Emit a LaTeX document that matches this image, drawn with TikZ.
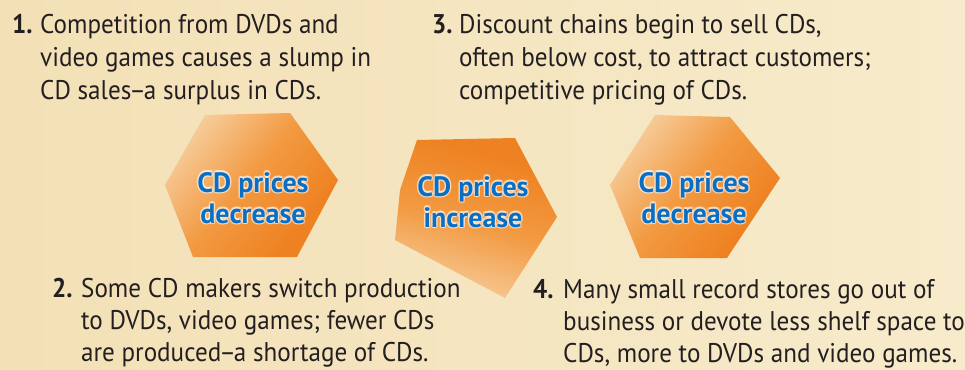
\documentclass[tikz,border=0pt]{standalone}
\usepackage{fontspec}
\setmainfont[FakeStretch=0.93]{PT Sans}
\newfontfamily\labelfont{PT Sans}

\definecolor{paper}{HTML}{F7EBCB}
\definecolor{paperL}{HTML}{F3E0B6}
\definecolor{ink}{HTML}{231F20}
\definecolor{pblue}{HTML}{0A6FC2}
\definecolor{orD}{HTML}{EE8222}
\definecolor{orM}{HTML}{F29A42}
\definecolor{orL}{HTML}{F6C58E}

% orange-to-paper ramp used for the three arrow shapes
\pgfdeclareverticalshading{chev}{100bp}{color(0bp)=(orD); color(30bp)=(orD); color(52bp)=(orM); color(72bp)=(orL); color(90bp)=(paper); color(100bp)=(paper)}

\newcommand{\tightdash}{\kern-2pt–\kern-2pt}

\begin{document}
\begin{tikzpicture}[x=1pt,y=-1pt,
  body/.style={font=\fontsize{27}{33}\selectfont, text=ink, inner sep=0pt, anchor=base west},
  lowbody/.style={body, font=\fontsize{27}{32}\selectfont},
  numlabel/.style={font=\fontsize{27}{33}\selectfont\bfseries, text=ink, inner sep=0pt, anchor=base west},
  price/.style={font=\labelfont\bfseries\fontsize{28}{31}\selectfont, text=pblue, inner sep=0pt, anchor=base},
  glow/.style={price, text=white, opacity=0.35}
]
\useasboundingbox (0,0) rectangle (965,369);
\shade[left color=paperL, right color=paper] (0,0) rectangle (965,369);

% arrow shapes
\shade[shading=chev, shading angle=50]
  (205,115) -- (290,113) -- (338,180) -- (297,257) -- (193,257) -- (165,185) -- cycle;
\shade[shading=chev, shading angle=165]
  (417,140) -- (515,138) -- (557,217) -- (505,298) -- (395,240) -- (400,190) -- cycle;
\shade[shading=chev, shading angle=50]
  (655,115) -- (730,117) -- (780,178) -- (727,258) -- (640,258) -- (610,185) -- cycle;

% price labels with a soft light halo
\newcommand{\pricelabel}[3]{%
  \foreach \a in {0,45,...,315}{\node[glow, shift={(\a:1.5)}] at (#2) {\begin{tabular}[t]{@{}c@{}}#3\end{tabular}};}
  \node[price] (#1) at (#2) {\begin{tabular}[t]{@{}c@{}}#3\end{tabular}};}
\pricelabel{p1}{253,192}{CD prices\\decrease}
\pricelabel{p2}{473,196}{CD prices\\increase}
\pricelabel{p3}{694,192}{CD prices\\decrease}

% numbered steps
\node[numlabel] (n1) at (12,34) {1.};
\node[body] (t1) at (40,34) {\begin{tabular}[t]{@{}l@{}}Competition from DVDs and\\video games causes a slump in\\CD sales\tightdash a surplus in CDs.\end{tabular}};
\node[numlabel] (n3) at (432,34) {3.};
\node[body] (t3) at (459,34) {\begin{tabular}[t]{@{}l@{}}Discount chains begin to sell CDs,\\often below cost, to attract customers;\\competitive pricing of CDs.\end{tabular}};
\node[numlabel] (n2) at (52,297) {2.};
\node[lowbody] (t2) at (81,297) {\begin{tabular}[t]{@{}l@{}}Some CD makers switch production\\to DVDs, video games; fewer CDs\\are produced\tightdash a shortage of CDs.\end{tabular}};
\node[numlabel] (n4) at (533,298) {4.};
\node[lowbody] (t4) at (563,298) {\begin{tabular}[t]{@{}l@{}}Many small record stores go out of\\business or devote less shelf space to\\CDs, more to DVDs and video games.\end{tabular}};
\end{tikzpicture}
\end{document}
